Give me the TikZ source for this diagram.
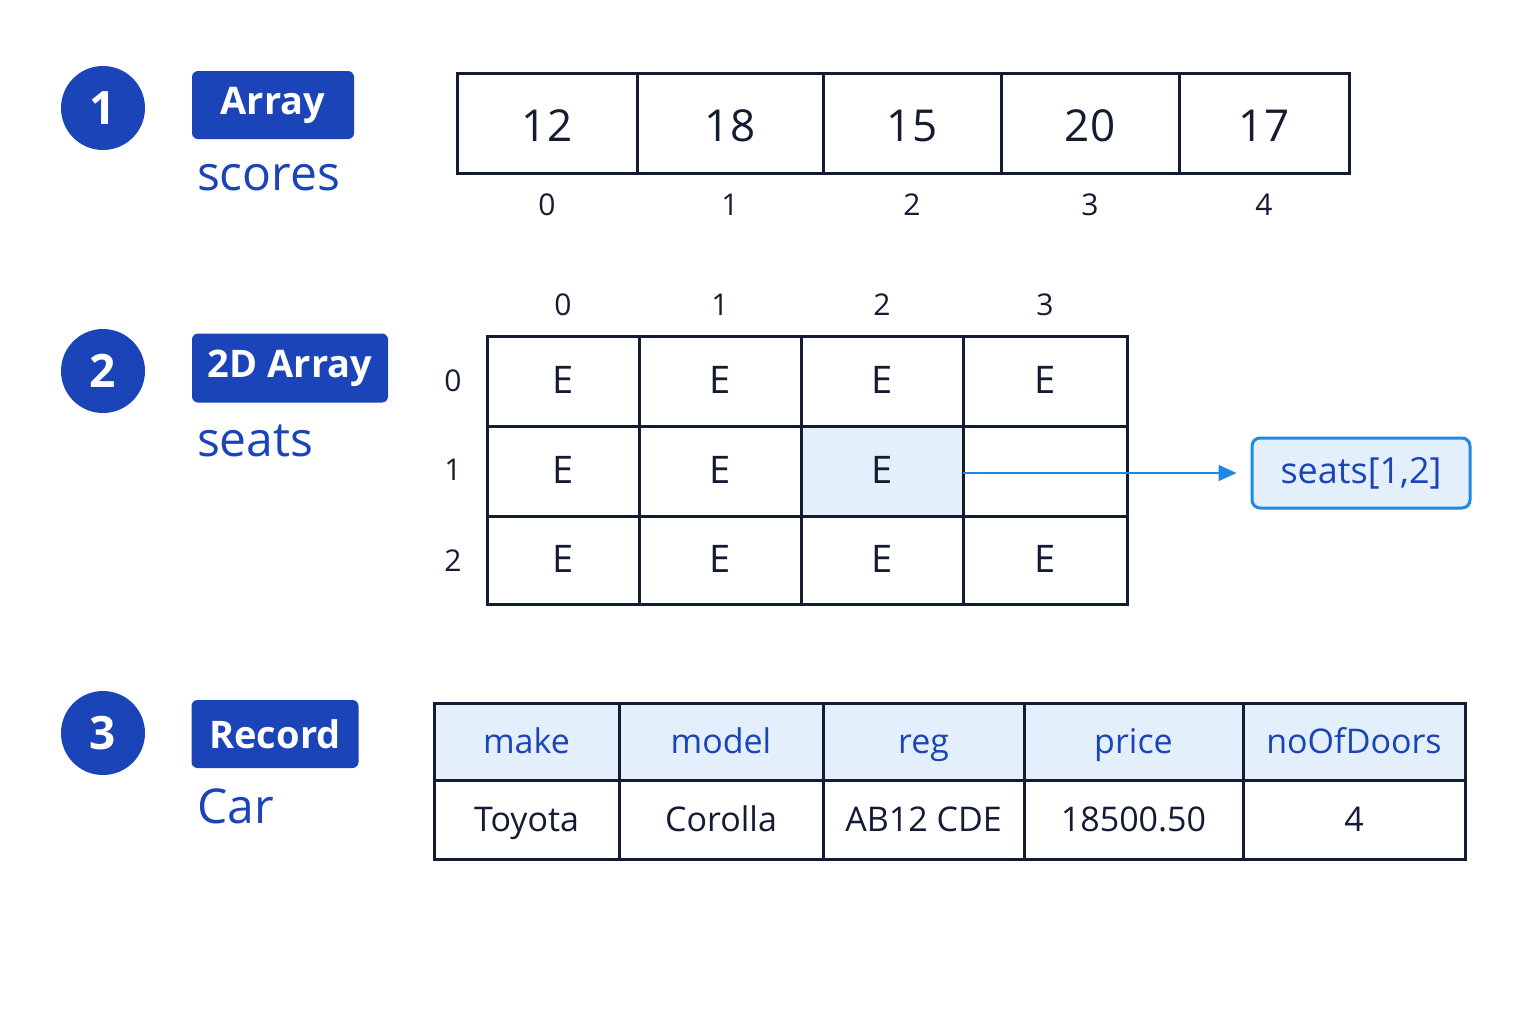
\documentclass[tikz,border=0pt]{standalone}
\usepackage{fontspec}
\setmainfont{Open Sans}
\usetikzlibrary{positioning,arrows.meta}
\definecolor{navy}{HTML}{1A44B8}
\definecolor{ink}{HTML}{141C33}
\definecolor{pale}{HTML}{E3F0FC}
\definecolor{sky}{HTML}{1E88E5}
\tikzset{
  num/.style={circle,fill=navy,minimum size=42pt,inner sep=0pt,text=white,font=\fontsize{23}{25}\selectfont\bfseries},
  tag/.style={rounded corners=3pt,fill=navy,text=white,inner sep=0pt,font=\fontsize{19}{21}\selectfont\bfseries},
  varname/.style={anchor=west,text=navy,font=\fontsize{24}{26}\selectfont},
  cell/.style={draw=ink,line width=1.5pt,inner sep=0pt,outer sep=0pt},
  val/.style={anchor=mid,text=ink},
  idx/.style={text=ink,font=\fontsize{15}{17}\selectfont},
}
\begin{document}
\begin{tikzpicture}[x=0.5pt,y=-0.5pt]
  \useasboundingbox[fill=white] (0,0) rectangle (1536,1024);

  % numbered badges and tags
  \node[num] (n1) at (103,108) {1};
  \node[num] (n2) at (103,371) {2};
  \node[num] (n3) at (103,733) {3};
  \node[tag,minimum width=81pt,minimum height=34pt] (t1) at (273,105) {Array};
  \node[tag,minimum width=98pt,minimum height=34.5pt] (t2) at (290,368) {2D Array};
  \node[tag,minimum width=83.5pt,minimum height=34pt] (t3) at (275,734) {Record};
  \node[varname] (s1) at (190,178) {scores};
  \node[varname] (s2) at (190,441) {seats};
  \node[varname] (s3) at (190,806) {Car};

  % 1D array
  \foreach \xa/\xb/\v/\i in {457/637/12/0,637/823/18/1,823/1001/15/2,1001/1179/20/3,1179/1349/17/4}{
    \node[cell,minimum width={(\xb-\xa)*0.5pt},minimum height=50pt] (a\i) at ({(\xa+\xb)/2},123) {};
    \node[val,yshift=-6.5pt,font=\fontsize{22}{24}\selectfont] (av\i) at (a\i.center) {\v};
    \node[idx] (ai\i) at ({(\xa+\xb)/2},205) {\i};
  }

  % 2D array
  \foreach \c/\xa/\xb in {0/487/639,1/639/801,2/801/963,3/963/1127}{
    \node[idx] (h\c) at ({(\xa+\xb)/2},305) {\c};
    \foreach \r/\ya/\yb in {0/336/426,1/426/516,2/516/604}{
      \ifnum\r=1 \ifnum\c=3 \def\txt{}\else\def\txt{E}\fi\else\def\txt{E}\fi
      \ifnum\r=1 \ifnum\c=2 \def\bg{pale}\else\def\bg{white}\fi\else\def\bg{white}\fi
      \node[cell,fill=\bg,minimum width={(\xb-\xa)*0.5pt},minimum height={(\yb-\ya)*0.5pt}]
        (g\r\c) at ({(\xa+\xb)/2},{(\ya+\yb)/2}) {};
      \node[val,yshift=-3.5pt,font=\fontsize{19}{21}\selectfont] (gv\r\c) at (g\r\c.center) {\txt};
    }
  }
  \foreach \r/\y in {0/381,1/470,2/561}
    \node[idx] (v\r) at (453,\y) {\r};
  \node[draw=sky,line width=1.5pt,rounded corners=4pt,fill=pale,text=navy,
        minimum width=109pt,minimum height=35pt,inner sep=0pt,
        font=\fontsize{18}{20}\selectfont] (ref) at (1361,473) {seats[1,2]};
  \draw[sky,line width=1pt,-{Triangle[length=9pt,width=8pt]},shorten >=7pt]
    (g12.east |- ref.west) -- (ref.west);

  % record
  \foreach \xa/\xb/\f/\v/\k in {434/619/make/Toyota/0,619/823/model/Corolla/1,823/1024/reg/AB12 CDE/2,1024/1243/price/18500.50/3,1243/1465/noOfDoors/4/4}{
    \node[cell,fill=pale,minimum width={(\xb-\xa)*0.5pt},minimum height=38.5pt] (f\k) at ({(\xa+\xb)/2},741.5) {};
    \node[val,yshift=-3.5pt,text=navy,font=\fontsize{17}{19}\selectfont] (fv\k) at (f\k.center) {\f};
    \node[cell,minimum width={(\xb-\xa)*0.5pt},minimum height=39.5pt] (d\k) at ({(\xa+\xb)/2},819.5) {};
    \node[val,yshift=-3.5pt,font=\fontsize{17}{19}\selectfont] (dv\k) at (d\k.center) {\v};
  }
\end{tikzpicture}
\end{document}
